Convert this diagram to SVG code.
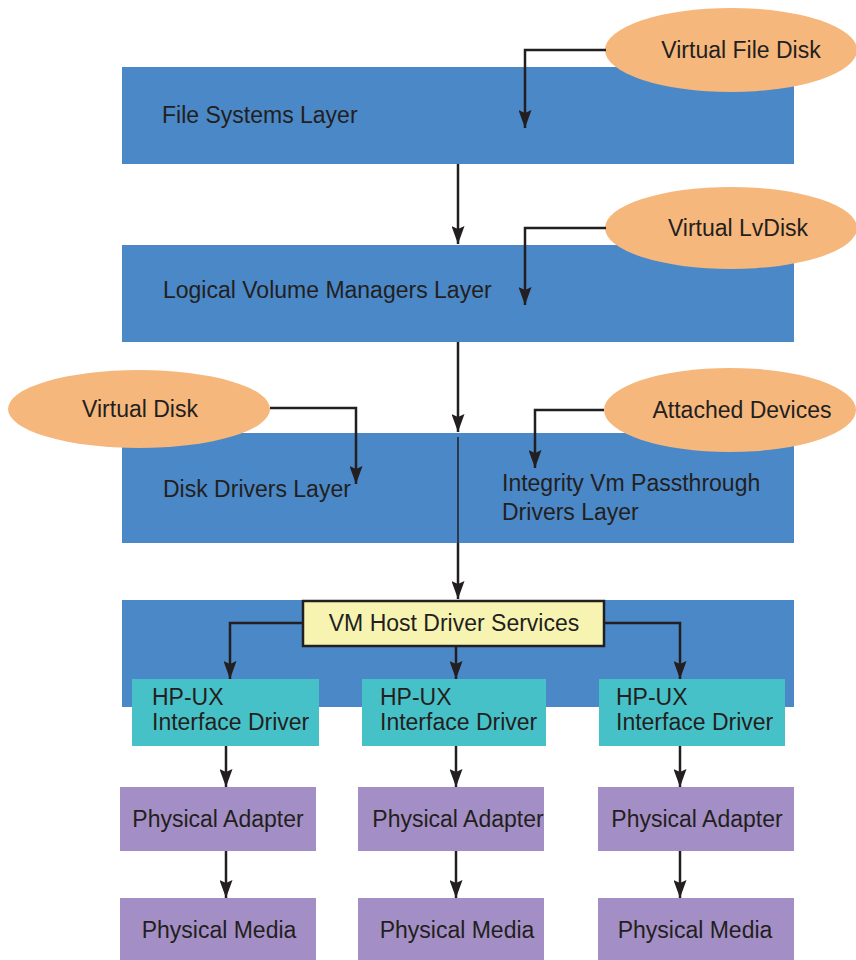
<svg xmlns="http://www.w3.org/2000/svg" width="856" height="960" viewBox="0 0 856 960">
<defs>
<marker id="ah" viewBox="0 0 18 13" refX="18" refY="6.5" markerWidth="18" markerHeight="13" orient="auto" markerUnits="userSpaceOnUse">
<path d="M0,0 L18,6.5 L0,13 L3,6.5 z" fill="#231F20"/>
</marker>
<style>
.layer{fill:#4A88C7}
.ell{fill:#F6B77C}
.hp{fill:#47C1C8}
.pa{fill:#A38FC5}
.vm{fill:#F7F3B1;stroke:#231F20;stroke-width:2.5}
text{font-family:"Liberation Sans",Arial,sans-serif;font-size:23px;fill:#231F20}
.c{text-anchor:middle}
.con{fill:none;stroke:#231F20;stroke-width:2.5;marker-end:url(#ah)}
</style>
</defs>
<rect width="856" height="960" fill="#FFFFFF"/>
<g id="layer-fs"><rect class="layer" x="122" y="67" width="672" height="97"/><text x="162" y="123">File Systems Layer</text></g>
<g id="layer-lvm"><rect class="layer" x="122" y="245" width="672" height="97"/><text x="163" y="298">Logical Volume Managers Layer</text></g>
<g id="layer-disk"><rect class="layer" x="122" y="433" width="672" height="110"/><text x="163" y="497">Disk Drivers Layer</text><text x="502" y="491">Integrity Vm Passthrough</text><text x="502" y="520">Drivers Layer</text></g>
<g id="layer-host"><rect class="layer" x="122" y="600" width="672" height="107"/></g>
<g id="vfd"><ellipse class="ell" cx="731" cy="50" rx="126" ry="42"/><text class="c" x="741" y="58">Virtual File Disk</text></g>
<g id="vlv"><ellipse class="ell" cx="731" cy="228" rx="126" ry="41"/><text class="c" x="738" y="236">Virtual LvDisk</text></g>
<g id="vd"><ellipse class="ell" cx="139" cy="409" rx="131" ry="39"/><text class="c" x="140" y="417">Virtual Disk</text></g>
<g id="ad"><ellipse class="ell" cx="730" cy="410" rx="126" ry="42"/><text class="c" x="742" y="418">Attached Devices</text></g>
<g id="vmhost"><rect class="vm" x="303" y="601" width="301" height="45"/><text class="c" x="454" y="631">VM Host Driver Services</text></g>
<g id="hp1"><rect class="hp" x="132" y="679" width="187" height="67"/><text x="152" y="705">HP-UX</text><text x="152" y="730">Interface Driver</text></g>
<g id="hp2"><rect class="hp" x="362" y="679" width="184" height="67"/><text x="380" y="705">HP-UX</text><text x="380" y="730">Interface Driver</text></g>
<g id="hp3"><rect class="hp" x="599" y="679" width="186" height="67"/><text x="616" y="705">HP-UX</text><text x="616" y="730">Interface Driver</text></g>
<g id="pa1"><rect class="pa" x="120" y="787" width="196" height="64"/><text class="c" x="218" y="827">Physical Adapter</text></g>
<g id="pa2"><rect class="pa" x="358" y="787" width="186" height="64"/><text class="c" x="458" y="827">Physical Adapter</text></g>
<g id="pa3"><rect class="pa" x="598" y="787" width="196" height="64"/><text class="c" x="697" y="827">Physical Adapter</text></g>
<g id="pm1"><rect class="pa" x="120" y="898" width="196" height="62"/><text class="c" x="219" y="938">Physical Media</text></g>
<g id="pm2"><rect class="pa" x="358" y="898" width="186" height="62"/><text class="c" x="457" y="938">Physical Media</text></g>
<g id="pm3"><rect class="pa" x="598" y="898" width="196" height="62"/><text class="c" x="695" y="938">Physical Media</text></g>
<g id="connectors">
<path class="con" d="M606,50 H525 V128"/>
<path class="con" d="M458,164 V244"/>
<path class="con" d="M606,228 H525 V305"/>
<path class="con" d="M458,342 V432"/>
<path class="con" d="M270,408 H356 V484"/>
<path class="con" d="M604,410 H535 V468"/>
<path d="M458,437 V543" fill="none" stroke="#231F20" stroke-width="1.5"/>
<path class="con" d="M458,543 V599"/>
<path class="con" d="M303,623 H230 V679"/>
<path class="con" d="M456,646 V679"/>
<path class="con" d="M604,623 H680 V679"/>
<path class="con" d="M226,746 V787"/>
<path class="con" d="M456,746 V787"/>
<path class="con" d="M680,746 V787"/>
<path class="con" d="M226,851 V898"/>
<path class="con" d="M456,851 V898"/>
<path class="con" d="M680,851 V898"/>
</g>
</svg>
